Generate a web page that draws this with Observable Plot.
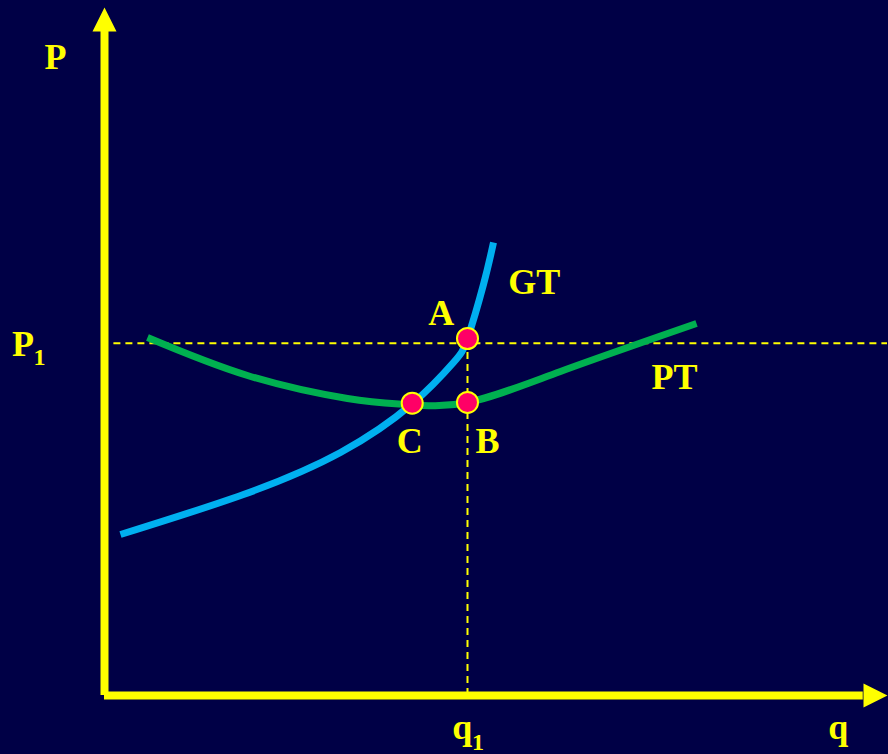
<!DOCTYPE html>
<html>
<head>
<meta charset="utf-8">
<script src="https://cdn.jsdelivr.net/npm/d3@7"></script>
<script src="https://cdn.jsdelivr.net/npm/@observablehq/plot@0.6"></script>
<style>
  html, body { margin: 0; padding: 0; background: #000046; }
  #chart svg { display: block; }
</style>
</head>
<body>
<div id="chart"></div>
<script>
// GT curve (blue)
const gtQ = [2.04, 17.75, 30.14, 39.34, 44.57, 46.36, 48.40, 49.68];
const gtP = [23.40, 29.22, 35.32, 42.44, 48.40, 51.89, 59.74, 65.84];
// PT curve (green)
const ptQ = [5.49, 18.26, 31.03, 38.44, 46.36, 58.24, 75.61];
const ptP = [52.03, 46.51, 43.17, 42.30, 42.59, 47.10, 54.07];
// key points
const pointNames = ["A", "B", "C"];
const pointQ = [46.36, 46.36, 39.3];
const pointP = [51.89, 42.59, 42.48];
// reference levels
const q1 = 46.36;
const P1 = 51.2;
const dashStart = 1.2;
const axisMax = 100;
const arrowBase = 96.6;
// labels
const labelText = ["P", "GT", "A", "C", "B", "PT", "q", "q", "P"];
const labelQ = [-6.26, 54.9, 43.0, 39.0, 48.9, 72.8, 93.7, 45.7, -10.4];
const labelP = [91.1, 58.4, 53.9, 35.3, 35.3, 44.6, -6.25, -6.25, 49.3];
const subText = ["1", "1"];
const subQ = [47.7, -8.3];
const subP = [-7.85, 48.0];

const gt = gtQ.map((q, i) => ({q, p: gtP[i]}));
const pt = ptQ.map((q, i) => ({q, p: ptP[i]}));
const pts = pointNames.map((n, i) => ({n, q: pointQ[i], p: pointP[i]}));
const labels = labelText.map((t, i) => ({t, q: labelQ[i], p: labelP[i]}));
const subs = subText.map((t, i) => ({t, q: subQ[i], p: subP[i]}));

const upHead = {draw(ctx) { ctx.moveTo(0, 0); ctx.lineTo(12, 24); ctx.lineTo(-12, 24); ctx.closePath(); }};
const rightHead = {draw(ctx) { ctx.moveTo(0, 0); ctx.lineTo(-24, -12); ctx.lineTo(-24, 12); ctx.closePath(); }};

const yellow = "#ffff00";
const font = "'Liberation Serif', 'Times New Roman', serif";

const chart = Plot.plot({
  width: 888,
  height: 754,
  marginLeft: 104,
  marginRight: 1,
  marginTop: 7,
  marginBottom: 59,
  x: {domain: [0, axisMax], axis: null},
  y: {domain: [0, axisMax], axis: null},
  style: {background: "#000046", fontFamily: font},
  marks: [
    // dashed guides
    Plot.ruleY([P1], {x1: dashStart, x2: axisMax, stroke: yellow, strokeWidth: 2, strokeDasharray: "7,5"}),
    Plot.ruleX([q1], {y1: 0, y2: P1, stroke: yellow, strokeWidth: 2, strokeDasharray: "7,5"}),
    // axes
    Plot.ruleX([0], {y1: 0, y2: arrowBase, stroke: yellow, strokeWidth: 8}),
    Plot.ruleY([0], {x1: 0, x2: arrowBase + 0.3, stroke: yellow, strokeWidth: 8}),
    Plot.dot([{q: 0, p: axisMax}], {x: "q", y: "p", symbol: upHead, r: 12, fill: yellow, stroke: "none"}),
    Plot.dot([{q: axisMax, p: 0}], {x: "q", y: "p", symbol: rightHead, r: 12, fill: yellow, stroke: "none"}),
    // curves
    Plot.line(gt, {x: "q", y: "p", stroke: "#00b0f0", strokeWidth: 7, curve: "natural", strokeLinecap: "butt"}),
    Plot.line(pt, {x: "q", y: "p", stroke: "#00b050", strokeWidth: 7, curve: "natural", strokeLinecap: "butt"}),
    // points
    Plot.dot(pts, {x: "q", y: "p", r: 10.5, fill: "#ff0066", stroke: yellow, strokeWidth: 2}),
    // labels
    Plot.text(labels, {x: "q", y: "p", text: "t", fill: yellow, fontSize: 36, fontWeight: "bold", lineAnchor: "bottom", textAnchor: "middle"}),
    Plot.text(subs, {x: "q", y: "p", text: "t", fill: yellow, fontSize: 24, fontWeight: "bold", lineAnchor: "bottom", textAnchor: "middle"})
  ]
});
document.getElementById("chart").appendChild(chart);
</script>
</body>
</html>
